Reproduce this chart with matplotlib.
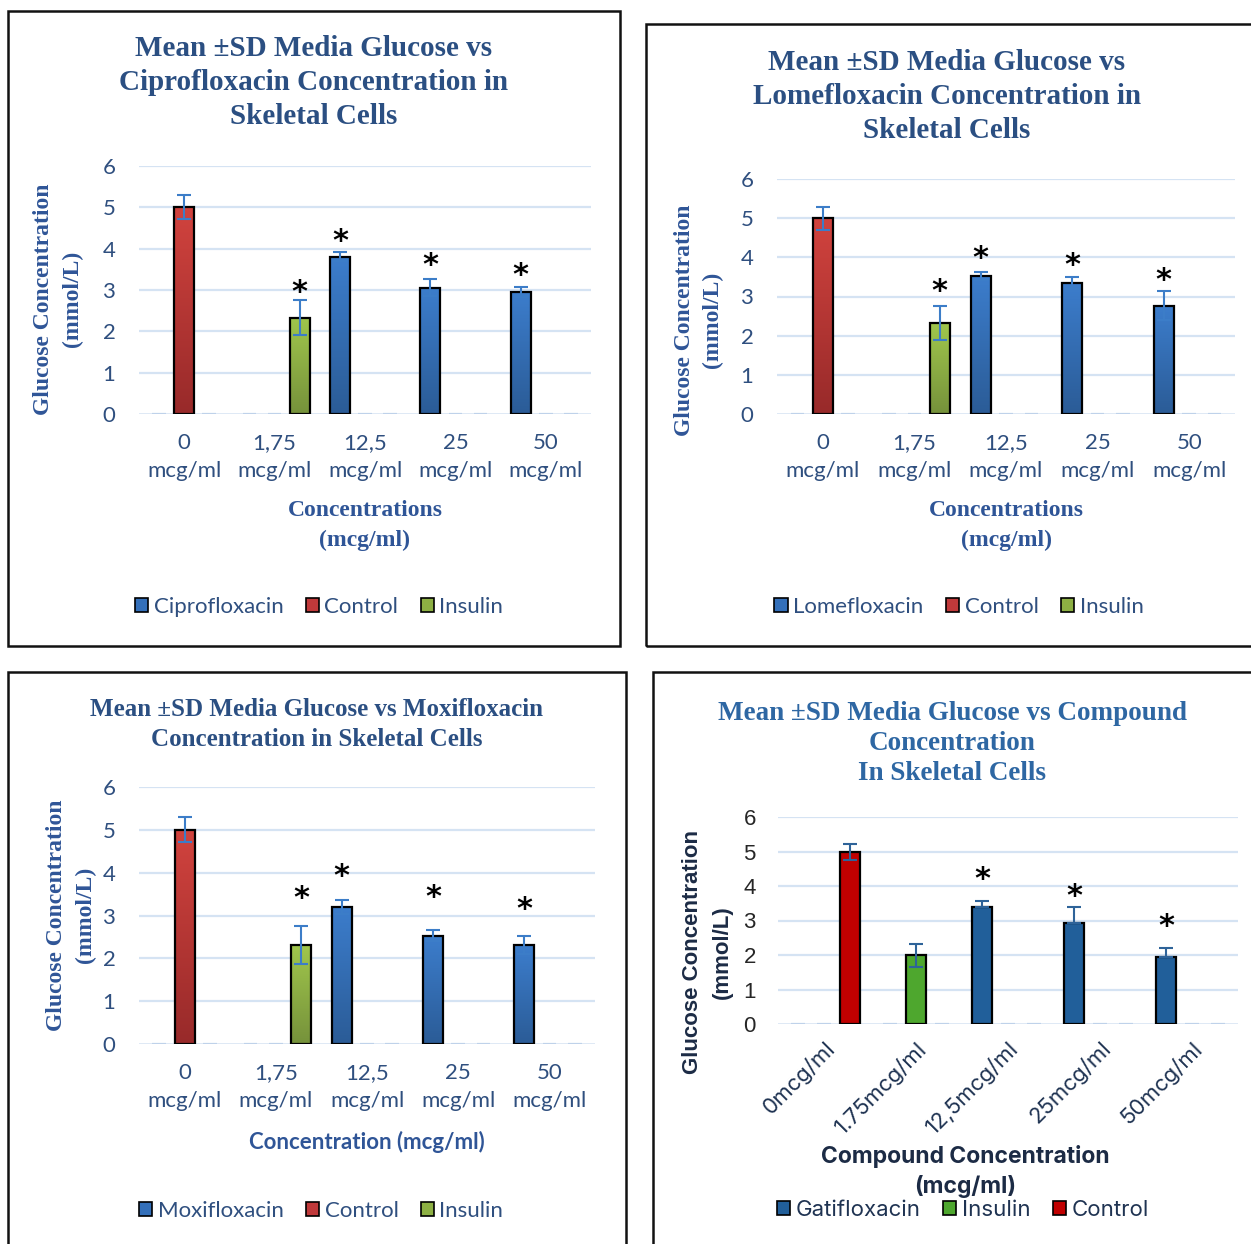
import numpy as np
import matplotlib
matplotlib.use('Agg')
import matplotlib.pyplot as plt
from matplotlib.patches import Rectangle, Patch
from matplotlib.colors import LinearSegmentedColormap

# ---------- data ----------
cat_labels = ['0\nmcg/ml', '1,75\nmcg/ml', '12,5\nmcg/ml', '25\nmcg/ml', '50\nmcg/ml']
gati_labels = ['0mcg/ml', '1.75mcg/ml', '12,5mcg/ml', '25mcg/ml', '50mcg/ml']

# Ciprofloxacin
cipro_mean = [0, 0, 3.81, 3.06, 2.95]
cipro_sd = [0, 0, 0.10, 0.21, 0.13]
cipro_ctrl = [5.0, 0, 0, 0, 0]
cipro_ctrl_sd = [0.29, 0, 0, 0, 0]
cipro_ins = [0, 2.33, 0, 0, 0]
cipro_ins_sd = [0, 0.43, 0, 0, 0]
cipro_star = [None, 2.93, 4.17, 3.60, 3.34]

# Lomefloxacin
lome_mean = [0, 0, 3.52, 3.34, 2.76]
lome_sd = [0, 0, 0.10, 0.15, 0.37]
lome_ctrl = [5.0, 0, 0, 0, 0]
lome_ctrl_sd = [0.29, 0, 0, 0, 0]
lome_ins = [0, 2.32, 0, 0, 0]
lome_ins_sd = [0, 0.44, 0, 0, 0]
lome_star = [None, 3.12, 3.97, 3.80, 3.42]

# Moxifloxacin
moxi_mean = [0, 0, 3.20, 2.53, 2.30]
moxi_sd = [0, 0, 0.17, 0.13, 0.21]
moxi_ctrl = [5.0, 0, 0, 0, 0]
moxi_ctrl_sd = [0.29, 0, 0, 0, 0]
moxi_ins = [0, 2.31, 0, 0, 0]
moxi_ins_sd = [0, 0.44, 0, 0, 0]
moxi_star = [None, 3.40, 3.90, 3.42, 3.13]

# Gatifloxacin
gati_mean = [0, 0, 3.39, 2.93, 1.95]
gati_sd = [0, 0, 0.18, 0.46, 0.25]
gati_ins = [0, 1.99, 0, 0, 0]
gati_ins_sd = [0, 0.34, 0, 0, 0]
gati_ctrl = [4.99, 0, 0, 0, 0]
gati_ctrl_sd = [0.23, 0, 0, 0, 0]
gati_star = [None, None, 4.20, 3.69, 2.82]

W, H = 1251, 1244
fig = plt.figure(figsize=(W / 100, H / 100), dpi=100)

serif = 'Liberation Serif'
calib = 'Lato'
aptos = 'Inter'

TITLE_C = '#2B4F82'
LABEL_C = '#2F5597'
TICK_C = '#2F4F7F'
GRID_C = '#D5E3F3'

blue_grad = LinearSegmentedColormap.from_list('b', ['#2B5C97', '#3C7DCC'])
red_grad = LinearSegmentedColormap.from_list('r', ['#982A2A', '#D1433E'])
green_grad = LinearSegmentedColormap.from_list('g', ['#76923B', '#A0C64C'])


def fx(x):
    return x / W


def fy(y):
    return 1 - y / H


def frame(x0, y0, x1, y1):
    fig.patches.append(Rectangle((fx(x0), fy(y1)), fx(x1 - x0), (y1 - y0) / H,
                                 transform=fig.transFigure, fill=False,
                                 edgecolor='#111111', lw=1.8, zorder=10))


def px_axes(x0, y0, x1, y1):
    return fig.add_axes([fx(x0), fy(y1), fx(x1 - x0), (y1 - y0) / H])


def draw_series(ax, x, vals, sds, cmap, solid, err_c, plus_only=False):
    bw = 0.22
    for xi, v, s in zip(x, vals, sds):
        if v <= 0:
            ax.hlines(0, xi - 0.075, xi + 0.075, color='#BFD2EA', lw=1.6, zorder=3)
            continue
        if solid is None:
            grad = np.linspace(0, 1, 100).reshape(-1, 1)
            ax.imshow(grad, cmap=cmap, origin='lower', aspect='auto',
                      extent=[xi - bw / 2, xi + bw / 2, 0, v], zorder=2)
            ax.bar(xi, v, bw, facecolor='none', edgecolor='black', lw=1.6, zorder=3)
        else:
            ax.bar(xi, v, bw, color=solid, edgecolor='black', lw=1.6, zorder=3)
        if s > 0:
            yerr = [[0], [s]] if plus_only else s
            ax.errorbar(xi, v, yerr=yerr, fmt='none', ecolor=err_c, elinewidth=1.5,
                        capsize=5, capthick=1.5, zorder=4)


def base_axes(ax, tick_font, tick_c, tick_size, ypad):
    ax.set_ylim(0, 6)
    ax.set_xlim(-0.5, 4.5)
    ax.set_yticks(range(7))
    for y in range(1, 7):
        ax.axhline(y, color=GRID_C, lw=1.6, zorder=0)
    ax.axhline(0, color=GRID_C, lw=1.8, zorder=1)
    for s in ax.spines.values():
        s.set_visible(False)
    ax.tick_params(length=0, labelsize=tick_size, labelcolor=tick_c)
    ax.tick_params(axis='y', pad=ypad)
    for t in ax.get_yticklabels() + ax.get_xticklabels():
        t.set_fontfamily(tick_font)


def legend(ax, names, colors, cx, cy, font, text_c, size):
    handles = [Patch(facecolor=c, edgecolor='black', lw=1.2) for c in colors]
    ax.legend(handles, names, loc='center', bbox_to_anchor=(fx(cx), fy(cy)),
              bbox_transform=fig.transFigure, ncol=3, frameon=False,
              handlelength=0.6, handleheight=0.6, handletextpad=0.25,
              columnspacing=1.0, prop={'family': font, 'size': size},
              labelcolor=text_c)


def stars(ax, x, ys, size=22):
    for xi, y in zip(x, ys):
        if y is not None:
            ax.text(xi, y, '*', ha='center', va='center', fontsize=size,
                    fontweight='bold', color='black', fontfamily='DejaVu Sans', zorder=5)


def fluoro_panel(box, axbox, title, title_ys, title_size, ylab_x, ylab_y,
                 xlab, xlab_ys, xlab_font, legend_xy, drug_name,
                 mean, sd, ctrl, ctrl_sd, ins, ins_sd, star_ys, title_cx):
    frame(*box)
    ax = px_axes(*axbox)
    x = np.arange(5)
    off = 0.277
    draw_series(ax, x - off, mean, sd, blue_grad, None, '#3C7DC8')
    draw_series(ax, x, ctrl, ctrl_sd, red_grad, None, '#3C7DC8')
    draw_series(ax, x + off, ins, ins_sd, green_grad, None, '#3C7DC8')
    base_axes(ax, calib, TICK_C, 16, 17)
    ax.set_xticks(x)
    ax.set_xticklabels(cat_labels, fontfamily=calib, linespacing=1.45)
    ax.tick_params(axis='x', pad=14)
    stars(ax, x - off, [None, None] + star_ys[2:])
    stars(ax, x + off, [None, star_ys[1], None, None, None])
    for line, ty in zip(title, title_ys):
        fig.text(fx(title_cx), fy(ty), line, ha='center', va='center',
                 fontfamily=serif, fontweight='bold', fontsize=title_size, color=TITLE_C)
    fig.text(fx(ylab_x[0]), fy(ylab_y), 'Glucose Concentration', rotation=90,
             ha='center', va='center', fontfamily=serif, fontweight='bold',
             fontsize=17, color=LABEL_C)
    fig.text(fx(ylab_x[1]), fy(ylab_y), '(mmol/L)', rotation=90,
             ha='center', va='center', fontfamily=serif, fontweight='bold',
             fontsize=17, color=LABEL_C)
    cx = (axbox[0] + axbox[2]) / 2
    for line, ty in zip(xlab, xlab_ys):
        fig.text(fx(cx), fy(ty), line, ha='center', va='center',
                 fontfamily=xlab_font, fontweight='bold',
                 fontsize=17 if xlab_font == serif else 16, color=LABEL_C)
    legend(ax, [drug_name, 'Control', 'Insulin'], ['#3470BA', '#C0393A', '#8DB043'],
           legend_xy[0], legend_xy[1], calib, TICK_C, 16)
    return ax


# ---------- panel 1: Ciprofloxacin ----------
fluoro_panel((8, 11, 620, 646), (139, 166, 591, 414),
             ['Mean \u00b1SD Media Glucose vs', 'Ciprofloxacin Concentration in', 'Skeletal Cells'],
             [49, 83, 116], 21, (44, 72), 299,
             ['Concentrations', '(mcg/ml)'], [511, 540], serif, (319, 607), 'Ciprofloxacin',
             cipro_mean, cipro_sd, cipro_ctrl, cipro_ctrl_sd, cipro_ins, cipro_ins_sd,
             cipro_star, 314)

# ---------- panel 2: Lomefloxacin ----------
fluoro_panel((646, 24, 1262, 646), (777, 179, 1235, 414),
             ['Mean \u00b1SD Media Glucose vs', 'Lomefloxacin Concentration in', 'Skeletal Cells'],
             [63, 97, 131], 21, (684, 712), 320,
             ['Concentrations', '(mcg/ml)'], [511, 540], serif, (959, 607), 'Lomefloxacin',
             lome_mean, lome_sd, lome_ctrl, lome_ctrl_sd, lome_ins, lome_ins_sd,
             lome_star, 947)

# ---------- panel 3: Moxifloxacin ----------
fluoro_panel((8, 672, 626, 1260), (139, 787, 595, 1044),
             ['Mean \u00b1SD Media Glucose vs Moxifloxacin', 'Concentration in Skeletal Cells'],
             [709, 740], 18, (57, 85), 915,
             ['Concentration (mcg/ml)'], [1142], calib, (321, 1211), 'Moxifloxacin',
             moxi_mean, moxi_sd, moxi_ctrl, moxi_ctrl_sd, moxi_ins, moxi_ins_sd,
             moxi_star, 317)

# ---------- panel 4: Gatifloxacin ----------
frame(653, 672, 1262, 1260)
ax4 = px_axes(778, 817, 1238, 1024)
x = np.arange(5)
off = 0.283
draw_series(ax4, x - off, gati_mean, gati_sd, None, '#215F9A', '#2E6399', plus_only=True)
draw_series(ax4, x, gati_ins, gati_ins_sd, None, '#4EA72E', '#2E6399')
draw_series(ax4, x + off, gati_ctrl, gati_ctrl_sd, None, '#C00000', '#2E6399')
base_axes(ax4, 'Liberation Sans', '#262626', 16, 16)
ax4.set_xticks(x)
ax4.set_xticklabels(gati_labels, rotation=45, ha='right', va='top',
                    rotation_mode='anchor', fontfamily=aptos, fontsize=16, color='#1F3352')
ax4.tick_params(axis='x', pad=10)
stars(ax4, x - off, gati_star)
for line, ty in zip(['Mean \u00b1SD Media Glucose vs Compound', 'Concentration', 'In Skeletal Cells'],
                    [713, 744, 774]):
    fig.text(fx(952), fy(ty), line, ha='center', va='center', fontfamily=serif,
             fontweight='bold', fontsize=19.5, color='#2E67A3')
fig.text(fx(692), fy(952), 'Glucose Concentration', rotation=90, ha='center', va='center',
         fontfamily='Liberation Sans', fontweight='bold', fontsize=16, color='#1C2B45')
fig.text(fx(722), fy(952), '(mmol/L)', rotation=90, ha='center', va='center',
         fontfamily='Liberation Sans', fontweight='bold', fontsize=16, color='#1C2B45')
for line, ty in zip(['Compound Concentration', '(mcg/ml)'], [1157, 1187]):
    fig.text(fx(965), fy(ty), line, ha='center', va='center', fontfamily=aptos,
             fontweight='bold', fontsize=16.5, color='#1C2B45')
legend(ax4, ['Gatifloxacin', 'Insulin', 'Control'], ['#215F9A', '#4EA72E', '#C00000'],
       963, 1210, aptos, '#1F3352', 16)

fig.savefig('out.png', dpi=100)
